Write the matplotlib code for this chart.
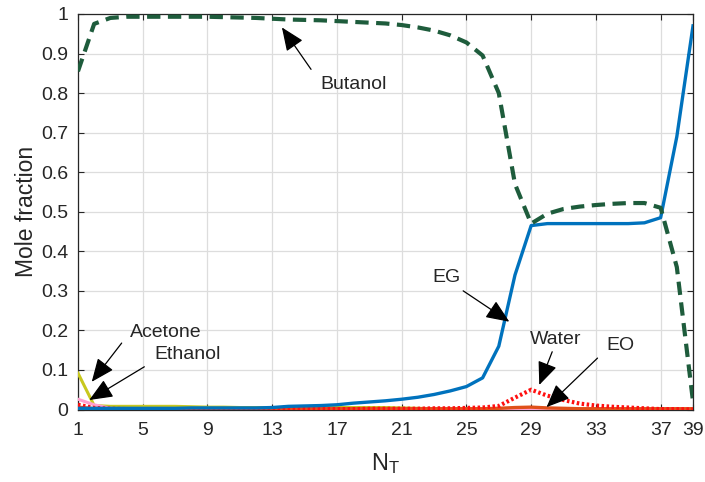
import matplotlib
matplotlib.use("Agg")
import matplotlib.pyplot as plt
import numpy as np

plt.rcParams['font.family'] = ['Liberation Sans', 'DejaVu Sans']
plt.rcParams['mathtext.default'] = 'regular'

# stage number (N_T) and mole fractions

stages = np.arange(1, 40)

butanol = [0.855, 0.975, 0.990, 0.993, 0.993, 0.993, 0.993, 0.993, 0.993, 0.992,
           0.991, 0.990, 0.988, 0.986, 0.985, 0.984, 0.982, 0.980, 0.978, 0.976,
           0.972, 0.966, 0.958, 0.946, 0.928, 0.895, 0.800, 0.570, 0.470, 0.495,
           0.507, 0.513, 0.517, 0.520, 0.522, 0.522, 0.510, 0.360, 0.020]

eg = [0.003, 0.003, 0.003, 0.003, 0.003, 0.003, 0.003, 0.004, 0.004, 0.004,
      0.004, 0.004, 0.005, 0.008, 0.009, 0.010, 0.012, 0.016, 0.019, 0.022,
      0.026, 0.031, 0.038, 0.047, 0.058, 0.080, 0.160, 0.340, 0.465, 0.470,
      0.470, 0.470, 0.470, 0.470, 0.470, 0.472, 0.485, 0.690, 0.970]

water = [0.012, 0.004, 0.002, 0.001, 0.001, 0.001, 0.001, 0.001, 0.001, 0.001,
         0.001, 0.001, 0.001, 0.001, 0.001, 0.001, 0.001, 0.001, 0.002, 0.002,
         0.002, 0.002, 0.003, 0.003, 0.004, 0.005, 0.009, 0.030, 0.050, 0.035,
         0.024, 0.015, 0.010, 0.007, 0.005, 0.003, 0.001, 0.001, 0.000]

eo = [0.006, 0.002, 0.002, 0.002, 0.002, 0.002, 0.002, 0.002, 0.002, 0.002,
      0.002, 0.002, 0.002, 0.002, 0.002, 0.002, 0.002, 0.002, 0.002, 0.002,
      0.002, 0.002, 0.002, 0.002, 0.002, 0.002, 0.003, 0.005, 0.006, 0.004,
      0.003, 0.002, 0.002, 0.002, 0.002, 0.002, 0.002, 0.002, 0.002]

acetone = [0.092, 0.010, 0.008, 0.008, 0.008, 0.008, 0.008, 0.007, 0.006, 0.006,
           0.005, 0.005, 0.005, 0.005, 0.005, 0.005, 0.005, 0.005, 0.005, 0.005,
           0.004, 0.003, 0.002, 0.001, 0.001, 0.000, 0.000, 0.000, 0.000, 0.000,
           0.000, 0.000, 0.000, 0.000, 0.000, 0.000, 0.000, 0.000, 0.000]

ethanol = [0.026, 0.012, 0.003, 0.001, 0.001, 0.001, 0.001, 0.001, 0.001, 0.001,
           0.001, 0.001, 0.001, 0.001, 0.001, 0.001, 0.001, 0.001, 0.001, 0.001,
           0.001, 0.001, 0.001, 0.001, 0.001, 0.001, 0.001, 0.002, 0.002, 0.001,
           0.001, 0.001, 0.000, 0.000, 0.000, 0.000, 0.000, 0.000, 0.000]

xticks = [1, 5, 9, 13, 17, 21, 25, 29, 33, 37, 39]
yticks = [0, 0.1, 0.2, 0.3, 0.4, 0.5, 0.6, 0.7, 0.8, 0.9, 1]
ytick_labels = ['0', '0.1', '0.2', '0.3', '0.4', '0.5', '0.6', '0.7', '0.8', '0.9', '1']

# (label, text position, arrow tail, arrow tip)
notes = [
    ('Butanol', (18.0, 0.822), (15.4, 0.86), (13.6, 0.966)),
    ('EG', (23.8, 0.333), (24.8, 0.30), (27.65, 0.222)),
    ('Acetone', (6.4, 0.194), (3.7, 0.168), (1.85, 0.07)),
    ('Ethanol', (7.8, 0.138), (5.1, 0.108), (1.7, 0.024)),
    ('Water', (30.5, 0.178), (30.3, 0.146), (29.5, 0.062)),
    ('EO', (34.5, 0.163), (33.1, 0.13), (29.95, 0.006)),
]

TXT = '#262626'

fig = plt.figure(figsize=(7.05, 4.82), dpi=100)
ax = fig.add_axes([0.1106, 0.1504, 0.8724, 0.8206])

ax.plot(stages, acetone, color='#c8c81e', lw=2.2, zorder=3)
ax.plot(stages, ethanol, color='#ff9fcf', lw=2.2, zorder=3)
ax.plot(stages, eo, color='#e0501a', lw=2.4, zorder=4)
ax.plot(stages, water, color='#ff1010', lw=3.0, ls=(0, (0.6, 0.6)), zorder=5)
ax.plot(stages, eg, color='#0072bd', lw=2.4, zorder=6)
ax.plot(stages, butanol, color='#1e5c3c', lw=3.0, ls=(0, (3.2, 1.8)), zorder=7)

for label, txt_pos, tail, tip in notes:
    ax.annotate('', xy=tip, xytext=tail,
                arrowprops=dict(arrowstyle='-|>,head_length=0.9,head_width=0.38',
                                color='black', lw=0.9, mutation_scale=16,
                                shrinkA=0, shrinkB=0),
                zorder=9)
    ax.text(txt_pos[0], txt_pos[1], label, fontsize=14, color=TXT,
            ha='center', va='center', zorder=10)

ax.set_xlim(1, 39)
ax.set_ylim(0, 1)
ax.set_xticks(xticks)
ax.set_yticks(yticks)
ax.set_yticklabels(ytick_labels)
ax.tick_params(direction='in', top=True, right=True, labelsize=14,
               colors=TXT, length=4, width=0.8)
ax.tick_params(axis='y', pad=7)
ax.tick_params(axis='x', pad=9)
ax.grid(True, color='#dddddd', lw=0.9)
ax.set_axisbelow(True)
for s in ax.spines.values():
    s.set_color(TXT)
    s.set_linewidth(0.9)

ax.set_xlabel('N$_T$', fontsize=17, color=TXT, labelpad=9)
ax.set_ylabel('Mole fraction', fontsize=16.5, color=TXT, labelpad=2)

fig.savefig('out.png', dpi=100)
